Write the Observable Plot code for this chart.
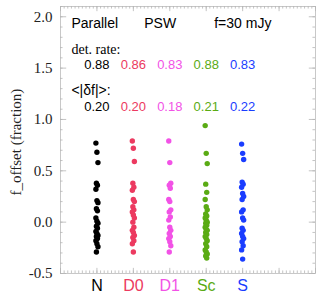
<!DOCTYPE html>
<html><head><meta charset="utf-8">
<script src="https://cdn.jsdelivr.net/npm/d3@7"></script>
<script src="https://cdn.jsdelivr.net/npm/@observablehq/plot@0.6"></script>
<style>body{margin:0;background:#fff;} svg{overflow:visible}</style>
</head><body><div id="chart"></div>
<script>
const categories = ["N", "D0", "D1", "Sc", "S"];
const colors = ["#000000", "#ec3a60", "#f252e6", "#5aab14", "#1a3dff"];
const detRate = ["0.88", "0.86", "0.83", "0.88", "0.83"];
const meanDf = ["0.20", "0.20", "0.18", "0.21", "0.22"];
const valsN  = [0.77, 0.68, 0.58, 0.38, 0.36, 0.32, 0.21, 0.19, 0.13, 0.11, 0.04, 0.01, -0.01, -0.04, -0.06, -0.09, -0.11, -0.13, -0.14, -0.16, -0.18, -0.21, -0.24, -0.29];
const valsD0 = [0.79, 0.72, 0.59, 0.38, 0.34, 0.31, 0.22, 0.20, 0.15, 0.12, 0.10, 0.07, 0.04, 0.00, -0.05, -0.08, -0.10, -0.13, -0.15, -0.18, -0.21, -0.29];
const valsD1 = [0.79, 0.58, 0.38, 0.36, 0.33, 0.22, 0.20, 0.12, 0.10, 0.05, 0.02, -0.05, -0.08, -0.11, -0.14, -0.16, -0.19, -0.23, -0.29];
const valsSc = [0.94, 0.67, 0.57, 0.37, 0.29, 0.22, 0.15, 0.12, 0.08, 0.06, 0.04, 0.02, 0.00, -0.01, -0.03, -0.05, -0.07, -0.08, -0.10, -0.12, -0.14, -0.16, -0.18, -0.21, -0.24, -0.27, -0.29, -0.31, -0.33, -0.35];
const valsS  = [0.76, 0.67, 0.61, 0.39, 0.37, 0.34, 0.28, 0.25, 0.22, 0.12, 0.10, 0.04, 0.02, -0.06, -0.08, -0.11, -0.14, -0.16, -0.19, -0.23, -0.27, -0.36];
const yMajor = [-0.5, 0.0, 0.5, 1.0, 1.5, 2.0];

const series = [valsN, valsD0, valsD1, valsSc, valsS];
const points = [];
series.forEach((vals, k) => vals.forEach((v, i) => points.push({k: k + 1, i, v, c: colors[k]})));
const jit = i => (((i * 7) % 5) - 2) * 0.014;

const yMinor = d3.range(-0.5, 2.1001, 0.1).map(d => +d.toFixed(2));
const xMinor = d3.range(0, 7.0001, 0.1).map(d => +d.toFixed(2));
const xMajor = d3.range(0, 8);
const tickCol = "#b5b5b5";
const sans = "Liberation Sans, Arial, sans-serif";
const serif = "Liberation Serif, Times New Roman, serif";
const cats = categories.map((c, k) => ({k: k + 1, c, col: colors[k], det: detRate[k], df: meanDf[k]}));

const chart = Plot.plot({
  width: 327, height: 295,
  marginLeft: 60, marginRight: 12, marginTop: 6, marginBottom: 22,
  x: {domain: [0, 7], axis: null},
  y: {domain: [-0.5, 2.1], axis: null},
  marks: [
    Plot.frame({stroke: "#c8c8c8"}),
    Plot.ruleY(yMinor, {y: d => d, x1: 0, x2: 0.07, stroke: tickCol, strokeWidth: 0.8}),
    Plot.ruleY(yMinor, {y: d => d, x1: 7, x2: 6.93, stroke: tickCol, strokeWidth: 0.8}),
    Plot.ruleY(yMajor, {y: d => d, x1: 0, x2: 0.17, stroke: tickCol, strokeWidth: 0.8}),
    Plot.ruleY(yMajor, {y: d => d, x1: 7, x2: 6.83, stroke: tickCol, strokeWidth: 0.8}),
    Plot.ruleX(xMinor, {x: d => d, y1: -0.5, y2: -0.475, stroke: tickCol, strokeWidth: 0.8}),
    Plot.ruleX(xMinor, {x: d => d, y1: 2.1, y2: 2.075, stroke: tickCol, strokeWidth: 0.8}),
    Plot.ruleX(xMajor, {x: d => d, y1: -0.5, y2: -0.45, stroke: tickCol, strokeWidth: 0.8}),
    Plot.ruleX(xMajor, {x: d => d, y1: 2.1, y2: 2.05, stroke: tickCol, strokeWidth: 0.8}),
    Plot.text(yMajor, {x: 0, y: d => d, text: d => d.toFixed(1), textAnchor: "end", dx: -8, fontFamily: serif, fontSize: 15, fill: "#222"}),
    Plot.text(["f_offset (fraction)"], {x: 0, y: 0.78, text: d => d, rotate: -90, dx: -44, fontFamily: serif, fontSize: 15, fill: "#222"}),
    Plot.text(cats, {x: "k", y: -0.5, text: "c", fill: "col", dy: 12, fontFamily: sans, fontSize: 16}),
    Plot.text(["Parallel"], {x: 0.3, y: 1.93, text: d => d, textAnchor: "start", fontFamily: sans, fontSize: 14, fill: "#000"}),
    Plot.text(["PSW"], {x: 2.3, y: 1.93, text: d => d, textAnchor: "start", fontFamily: sans, fontSize: 14, fill: "#000"}),
    Plot.text(["f=30 mJy"], {x: 4.22, y: 1.93, text: d => d, textAnchor: "start", fontFamily: sans, fontSize: 14, fill: "#000"}),
    Plot.text(["det. rate:"], {x: 0.3, y: 1.68, text: d => d, textAnchor: "start", fontFamily: serif, fontSize: 14, fill: "#000"}),
    Plot.text(cats, {x: "k", y: 1.535, text: "det", fill: "col", fontFamily: sans, fontSize: 13}),
    Plot.text(["<|δf|>:"], {x: 0.3, y: 1.28, text: d => d, textAnchor: "start", fontFamily: sans, fontSize: 14, fill: "#000"}),
    Plot.text(cats, {x: "k", y: 1.126, text: "df", fill: "col", fontFamily: sans, fontSize: 13}),
    Plot.dot(points, {x: d => d.k + jit(d.i), y: "v", r: 2.7, fill: "c", stroke: "none"})
  ]
});
document.getElementById("chart").appendChild(chart);
</script></body></html>
